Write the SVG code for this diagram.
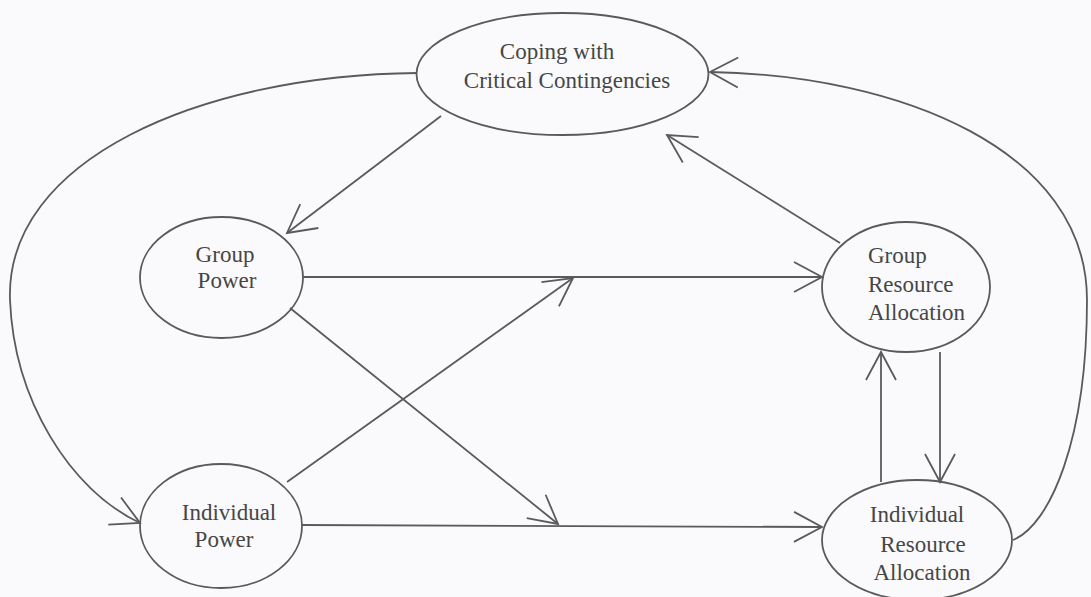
<svg xmlns="http://www.w3.org/2000/svg" width="1091" height="597" viewBox="0 0 1091 597">
<style>
.node ellipse{fill:none;stroke:#5a5a5a;stroke-width:1.8}
.node text{font-family:"Liberation Serif","Times New Roman",serif;font-size:23px;fill:#464646;text-anchor:middle}
.node text.l{text-anchor:start}
#connectors path{fill:none;stroke:#5a5a5a;stroke-width:1.8;marker-end:url(#arr)}
</style>
<defs>
<marker id="arr" markerUnits="userSpaceOnUse" orient="auto" refX="0" refY="0" markerWidth="60" markerHeight="60" viewBox="-40 -30 50 60" overflow="visible">
<path d="M-28,-15 L0,0 L-28,15" fill="none" stroke="#5a5a5a" stroke-width="1.8"/>
</marker>
</defs>
<rect width="1091" height="597" fill="#fafafc"/>
<g id="connectors">
<path d="M441,116 L287,233"/>
<path d="M303,277 L822,277"/>
<path d="M290,308 L558,524"/>
<path d="M287,482 L573,278"/>
<path d="M302,525 L822,527"/>
<path d="M840,243 L667,135"/>
<path d="M940,352 L940,482"/>
<path d="M881,482 L881,352"/>
<path d="M417,73 C200,75 5,160 10,300 C14,400 70,490 140,523"/>
<path d="M1013,540 C1050,525 1087,440 1087,300 C1087,150 900,75 710,72"/>
</g>
<g id="coping" class="node">
<ellipse cx="562.5" cy="74" rx="146" ry="61"/>
<text x="557" y="59">Coping with</text>
<text x="567" y="88">Critical Contingencies</text>
</g>
<g id="group-power" class="node">
<ellipse cx="221.5" cy="277.5" rx="81.5" ry="60.5"/>
<text x="225" y="262">Group</text>
<text x="227" y="288">Power</text>
</g>
<g id="individual-power" class="node">
<ellipse cx="221" cy="526" rx="81" ry="62"/>
<text x="229" y="520">Individual</text>
<text x="224" y="547">Power</text>
</g>
<g id="group-resource-allocation" class="node">
<ellipse cx="906" cy="287" rx="84" ry="65"/>
<text class="l" x="868" y="263">Group</text>
<text class="l" x="868" y="292">Resource</text>
<text class="l" x="868" y="320">Allocation</text>
</g>
<g id="individual-resource-allocation" class="node">
<ellipse cx="917" cy="540" rx="95" ry="60"/>
<text x="917" y="522">Individual</text>
<text x="923" y="552">Resource</text>
<text x="922" y="580">Allocation</text>
</g>
</svg>
